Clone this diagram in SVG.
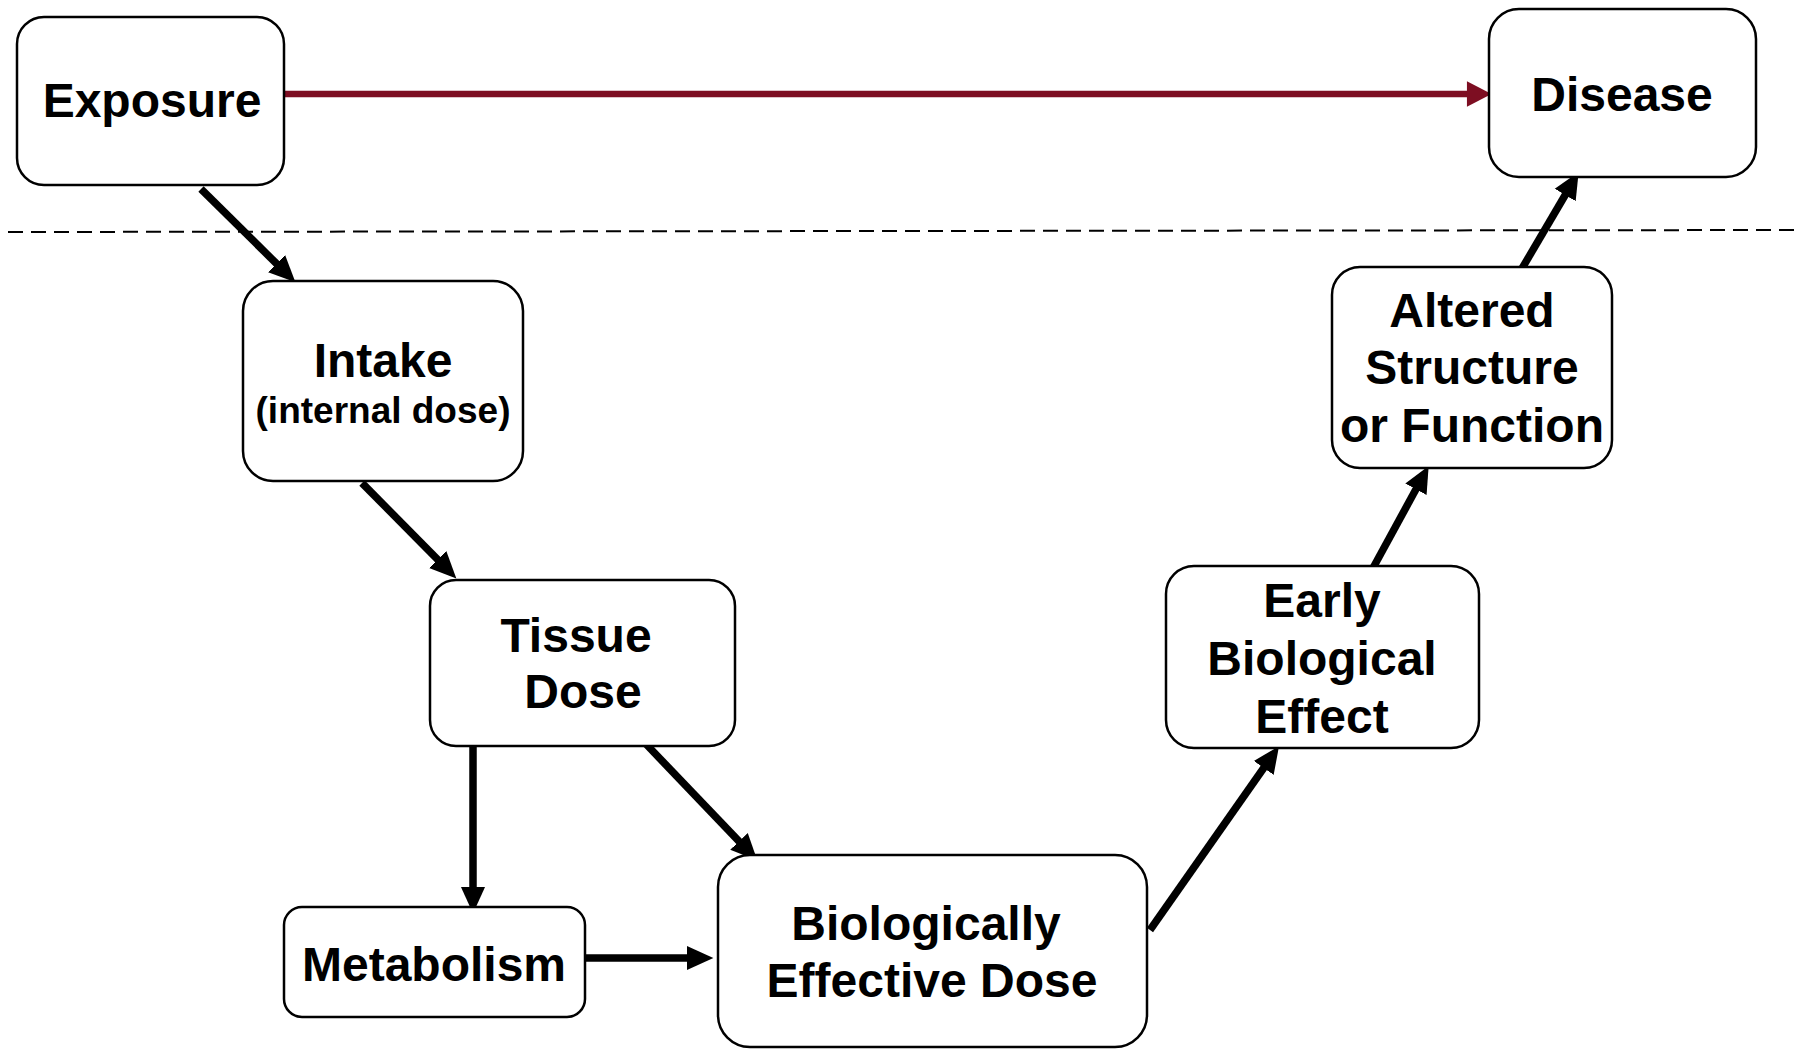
<svg xmlns="http://www.w3.org/2000/svg" width="1794" height="1049" viewBox="0 0 1794 1049">
  <style>
    .box { fill: #ffffff; stroke: #000000; stroke-width: 2.5; }
    .lbl { font-family: "Liberation Sans", Arial, Helvetica, sans-serif; font-weight: bold; font-size: 48px; fill: #000000; text-anchor: middle; }
    .sub { font-size: 37px; }
    .arrow { stroke: #000000; stroke-width: 7.5; fill: none; marker-end: url(#head); }
    .main-path { stroke: #7d0e22; stroke-width: 6.5; fill: none; marker-end: url(#head-red); }
    .divider { stroke: #000000; stroke-width: 2; stroke-dasharray: 15 8; fill: none; }
  </style>
  <defs>
    <marker id="head" markerUnits="userSpaceOnUse" markerWidth="30" markerHeight="30" viewBox="0 -12 26 24" refX="1" refY="0" orient="auto">
      <path d="M0,-10.5 L23,0 L0,10.5 z" fill="#000000"/>
    </marker>
    <marker id="head-red" markerUnits="userSpaceOnUse" markerWidth="30" markerHeight="30" viewBox="0 -14 26 28" refX="1" refY="0" orient="auto">
      <path d="M0,-12 L23,0 L0,12 z" fill="#7d0e22"/>
    </marker>
  </defs>

  <rect width="1794" height="1049" fill="#ffffff"/>

  <!-- boundary between external exposure and internal events -->
  <line class="divider" x1="8" y1="232" x2="1794" y2="230"/>

  <g id="connectors">
    <line class="main-path" x1="284" y1="94" x2="1468" y2="94"/>
    <line class="arrow" x1="201" y1="189" x2="277.4" y2="264.5"/>
    <line class="arrow" x1="362" y1="483" x2="438.5" y2="560.4"/>
    <line class="arrow" x1="473" y1="745" x2="473" y2="888"/>
    <line class="arrow" x1="645" y1="743" x2="739.8" y2="842.1"/>
    <line class="arrow" x1="585" y1="958" x2="688" y2="958"/>
    <line class="arrow" x1="1150" y1="930" x2="1264.4" y2="767"/>
    <line class="arrow" x1="1373" y1="568" x2="1416.5" y2="488.3"/>
    <line class="arrow" x1="1517" y1="277" x2="1565.8" y2="194"/>
  </g>

  <g id="exposure">
    <rect class="box" x="17" y="17" width="267" height="168" rx="27"/>
    <text class="lbl" x="152" y="117">Exposure</text>
  </g>

  <g id="disease">
    <rect class="box" x="1489" y="9" width="267" height="168" rx="30"/>
    <text class="lbl" x="1622" y="111">Disease</text>
  </g>

  <g id="intake">
    <rect class="box" x="243" y="281" width="280" height="200" rx="30"/>
    <text class="lbl" x="383" y="377">Intake</text>
    <text class="lbl sub" x="383" y="423">(internal dose)</text>
  </g>

  <g id="tissue-dose">
    <rect class="box" x="430" y="580" width="305" height="166" rx="26"/>
    <text class="lbl" x="576" y="652">Tissue</text>
    <text class="lbl" x="583" y="708">Dose</text>
  </g>

  <g id="metabolism">
    <rect class="box" x="284" y="907" width="301" height="110" rx="18"/>
    <text class="lbl" x="434" y="981">Metabolism</text>
  </g>

  <g id="biologically-effective-dose">
    <rect class="box" x="718" y="855" width="429" height="192" rx="32"/>
    <text class="lbl" x="926" y="940">Biologically</text>
    <text class="lbl" x="932" y="997">Effective Dose</text>
  </g>

  <g id="early-biological-effect">
    <rect class="box" x="1166" y="566" width="313" height="182" rx="28"/>
    <text class="lbl" x="1322" y="617">Early</text>
    <text class="lbl" x="1322" y="675">Biological</text>
    <text class="lbl" x="1322" y="733">Effect</text>
  </g>

  <g id="altered-structure">
    <rect class="box" x="1332" y="267" width="280" height="201" rx="28"/>
    <text class="lbl" x="1472" y="327">Altered</text>
    <text class="lbl" x="1472" y="384">Structure</text>
    <text class="lbl" x="1472" y="442">or Function</text>
  </g>
</svg>
